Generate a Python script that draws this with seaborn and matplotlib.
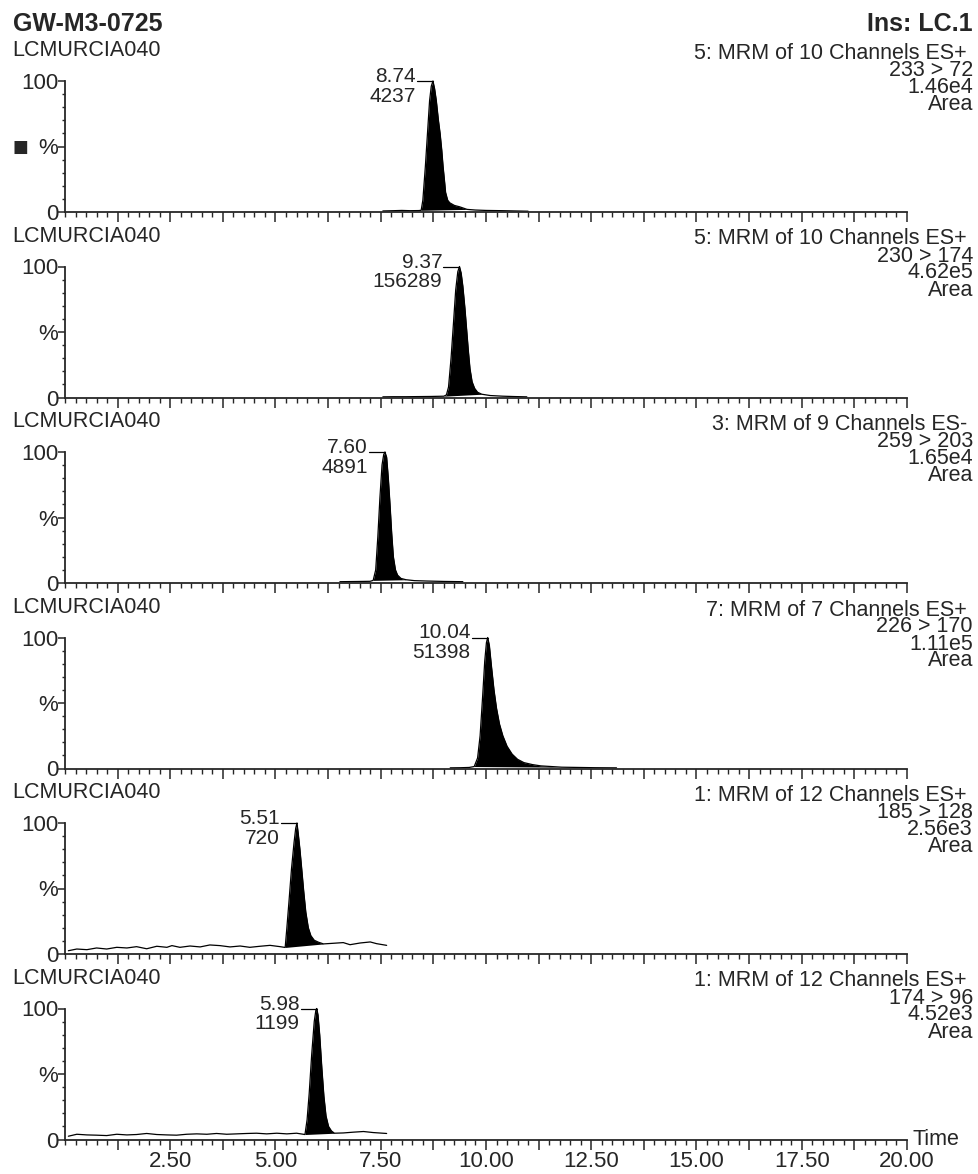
import numpy as np
import matplotlib
matplotlib.use("Agg")
import matplotlib.pyplot as plt
from matplotlib.ticker import MultipleLocator, FixedLocator, FuncFormatter
import pandas as pd
import seaborn as sns

# ---- header / channel descriptions ----
SAMPLE = "GW-M3-0725"
INSTRUMENT = "Ins: LC.1"
RUN_NAME = "LCMURCIA040"
FUNCTIONS = ["5: MRM of 10 Channels ES+", "5: MRM of 10 Channels ES+",
             "3: MRM of 9 Channels ES-", "7: MRM of 7 Channels ES+",
             "1: MRM of 12 Channels ES+", "1: MRM of 12 Channels ES+"]
TRANSITIONS = ["233 > 72", "230 > 174", "259 > 203", "226 > 170", "185 > 128", "174 > 96"]
SCALES = ["1.46e4", "4.62e5", "1.65e4", "1.11e5", "2.56e3", "4.52e3"]

# ---- integrated peaks ----
PEAK_RT = [8.74, 9.37, 7.60, 10.04, 5.51, 5.98]
PEAK_AREA = ["4237", "156289", "4891", "51398", "720", "1199"]
PEAK_START = [8.46, 9.00, 7.32, 9.72, 5.23, 5.70]
PEAK_END = [9.55, 9.90, 8.10, 11.80, 6.14, 6.40]

# ---- traces (time in min, relative intensity in %) ----
T1 = [7.55, 7.80, 8.00, 8.20, 8.40, 8.46, 8.50, 8.56, 8.61, 8.66, 8.70, 8.74, 8.78, 8.82,
      8.87, 8.91, 8.95, 8.98, 9.02, 9.04, 9.09, 9.14, 9.25, 9.37, 9.55, 9.75, 10.00, 10.40,
      10.70, 11.00]
I1 = [0.8, 1.0, 1.2, 1.0, 1.1, 1.3, 9, 35, 60, 85, 96, 100, 94, 85,
      70, 60, 47, 35, 22, 15, 9, 7, 5, 4, 2, 1.5, 1.2, 1.0,
      0.8, 0.6]

T2 = [7.55, 7.80, 8.10, 8.40, 8.70, 9.00, 9.06, 9.11, 9.17, 9.23, 9.28, 9.33, 9.37, 9.41,
      9.45, 9.50, 9.54, 9.58, 9.62, 9.67, 9.73, 9.80, 9.90, 10.10, 10.40, 10.70, 10.97]
I2 = [0.5, 0.6, 0.6, 0.7, 0.8, 1.0, 2, 8, 30, 58, 82, 96, 100, 95,
      85, 68, 52, 36, 22, 12, 7, 4, 2.5, 1.5, 1.0, 0.7, 0.5]

T3 = [6.53, 6.80, 7.05, 7.25, 7.32, 7.38, 7.43, 7.48, 7.53, 7.57, 7.60, 7.64, 7.68, 7.72,
      7.76, 7.80, 7.85, 7.90, 7.98, 8.10, 8.30, 8.60, 9.00, 9.45]
I3 = [1.0, 1.1, 1.2, 1.3, 2, 10, 35, 65, 90, 98, 100, 96, 80, 60,
      38, 20, 10, 6, 3.5, 2.5, 1.8, 1.5, 1.2, 1.0]

T4 = [9.15, 9.40, 9.60, 9.72, 9.80, 9.86, 9.92, 9.97, 10.01, 10.04, 10.08, 10.13, 10.19,
      10.25, 10.32, 10.40, 10.50, 10.62, 10.75, 10.90, 11.10, 11.30, 11.55, 11.80, 12.20,
      12.60, 13.10]
I4 = [0.5, 0.6, 0.8, 1.5, 8, 25, 55, 82, 96, 100, 94, 78, 60,
      46, 34, 25, 17, 11, 7, 4.5, 3, 2, 1.5, 1.0, 0.8,
      0.6, 0.5]

T5 = [0.08, 0.28, 0.52, 0.75, 0.99, 1.23, 1.47, 1.70, 1.94, 2.18, 2.42, 2.54, 2.73, 2.97,
      3.21, 3.44, 3.68, 3.92, 4.16, 4.39, 4.63, 4.87, 5.11, 5.23, 5.27, 5.32, 5.38, 5.44,
      5.48, 5.51, 5.54, 5.58, 5.62, 5.67, 5.72, 5.78, 5.84, 5.92, 6.02, 6.14, 6.38, 6.61,
      6.77, 7.01, 7.25, 7.40, 7.64]
I5 = [2.5, 3.8, 3.3, 4.6, 3.8, 5.1, 4.6, 5.6, 4.0, 5.9, 5.1, 6.4, 5.1, 6.1,
      5.4, 6.9, 6.4, 5.4, 6.1, 5.1, 5.9, 6.6, 5.6, 5.0, 20, 40, 65, 85,
      96, 100, 92, 80, 66, 48, 32, 20, 14, 10.5, 9, 7.7, 8.2, 8.7,
      7.1, 8.4, 9.2, 7.9, 6.6]

T6 = [0.08, 0.28, 0.52, 0.75, 0.99, 1.23, 1.47, 1.70, 1.94, 2.18, 2.42, 2.65, 2.89, 3.13,
      3.37, 3.60, 3.84, 4.08, 4.32, 4.55, 4.79, 5.03, 5.27, 5.50, 5.70, 5.75, 5.80, 5.86,
      5.92, 5.96, 5.98, 6.01, 6.05, 6.10, 6.15, 6.20, 6.26, 6.33, 6.40, 6.61, 6.85, 7.09,
      7.32, 7.64]
I6 = [2.5, 4.0, 3.5, 3.3, 3.0, 4.0, 3.5, 3.8, 4.6, 3.8, 3.5, 3.3, 4.0, 4.3,
      4.0, 4.6, 4.0, 4.3, 4.6, 4.8, 4.3, 4.8, 4.3, 4.8, 3.8, 15, 35, 65,
      90, 99, 100, 95, 80, 55, 33, 18, 10, 6.5, 4.8, 5.0, 5.6, 6.1,
      5.3, 4.6]

TIMES = [T1, T2, T3, T4, T5, T6]
INTENS = [I1, I2, I3, I4, I5, I6]

# ---- styling ----
sns.set_style("ticks")
plt.rcParams["font.family"] = ["Liberation Sans", "DejaVu Sans"]
plt.rcParams["axes.linewidth"] = 1.3

W, H = 979, 1174
fig = plt.figure(figsize=(W / 100, H / 100), dpi=100)


def fx(x):
    return x / W


def fy(y):
    return 1 - y / H


X0, X1 = 65, 907          # pixel span of 0..20 min
ZERO0, PITCH, PH = 212, 185.5, 131
LBL = 15.5
px_per_min = (X1 - X0) / 20.0

fig.text(fx(13), fy(24), SAMPLE, fontsize=18, fontweight="bold", ha="left", va="center")
fig.text(fx(973), fy(24), INSTRUMENT, fontsize=18, fontweight="bold", ha="right", va="center")

n = len(TIMES)
for k in range(n):
    y0 = ZERO0 + PITCH * k
    y100 = y0 - PH
    ax = fig.add_axes([fx(X0), fy(y0), fx(X1 - X0), PH / H])

    df = pd.DataFrame({"time": TIMES[k], "intensity": INTENS[k]})
    sns.lineplot(data=df, x="time", y="intensity", ax=ax, color="black",
                 linewidth=0.9, sort=False, estimator=None, clip_on=False)

    # integrated area: between the trace and the straight baseline across the peak
    t = np.array(TIMES[k], dtype=float)
    v = np.array(INTENS[k], dtype=float)
    ts, te = PEAK_START[k], PEAK_END[k]
    tt = np.linspace(ts, te, 400)
    vv = np.interp(tt, t, v)
    base = np.interp(tt, [ts, te], [np.interp(ts, t, v), np.interp(te, t, v)])
    ax.fill_between(tt, base, vv, color="black", linewidth=0, clip_on=False)

    # peak annotation: retention time over area, with a leader to the apex
    rt = PEAK_RT[k]
    dt = 16 / px_per_min
    ax.plot([rt - dt, rt], [100, 100], color="black", linewidth=0.9, clip_on=False)
    ax.annotate(f"{rt:.2f}\n{PEAK_AREA[k]}", xy=(rt, 100), xytext=(-17, 14),
                textcoords="offset pixels", ha="right", va="top", fontsize=15,
                multialignment="right", linespacing=1.05)

    ax.set_xlim(0, 20)
    ax.set_ylim(0, 100)
    sns.despine(ax=ax)
    ax.set_xlabel("")
    ax.set_ylabel("")

    ax.xaxis.set_major_locator(FixedLocator(np.arange(1.25, 20.01, 1.25)))
    ax.xaxis.set_minor_locator(MultipleLocator(0.25))
    if k == n - 1:
        ax.xaxis.set_major_formatter(FuncFormatter(
            lambda val, pos: f"{val:.2f}" if abs(val / 2.5 - round(val / 2.5)) < 1e-6 else ""))
    else:
        ax.xaxis.set_major_formatter(FuncFormatter(lambda val, pos: ""))
    ax.tick_params(axis="x", which="major", direction="out", length=7, width=1.1,
                   labelsize=16, pad=1)
    ax.tick_params(axis="x", which="minor", direction="out", length=3.5, width=1.0)

    ax.yaxis.set_major_locator(FixedLocator([0, 50, 100]))
    ax.yaxis.set_major_formatter(FuncFormatter(
        lambda val, pos: {0: "0", 50: "%", 100: "100"}.get(int(round(val)), "")))
    ax.yaxis.set_minor_locator(MultipleLocator(10))
    ax.tick_params(axis="y", which="major", direction="out", length=5, width=1.1,
                   labelsize=16, pad=0)
    ax.tick_params(axis="y", which="minor", direction="out", length=2.5, width=1.0)

    # channel header: run name on the left, function block on the right
    fig.text(fx(12), fy(y100 - 30), RUN_NAME, fontsize=LBL, ha="left", va="center")
    block = "\n".join([FUNCTIONS[k] + " ", TRANSITIONS[k], SCALES[k], "Area"])
    fig.text(fx(973), fy(y100 - 38), block, fontsize=LBL, ha="right", va="top",
             multialignment="right", linespacing=0.75)

    if k == 0:
        fig.text(fx(20), fy(y0 - PH / 2), "\u25a0", fontsize=12, ha="center", va="center",
                 family="DejaVu Sans")

fig.text(fx(913), fy(ZERO0 + PITCH * (n - 1)), "Time", fontsize=LBL, ha="left", va="center")

fig.savefig("out.png", dpi=100)
